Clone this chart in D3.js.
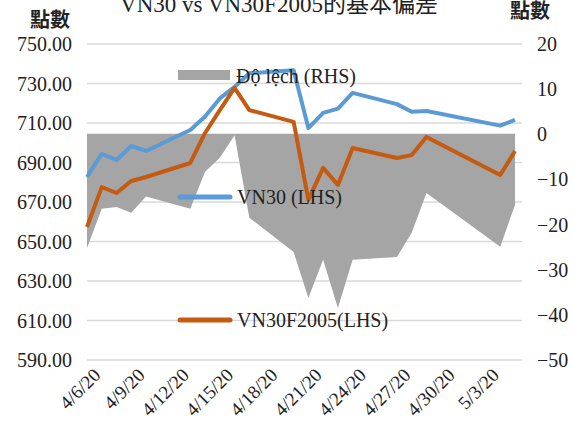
<!DOCTYPE html>
<html>
<head>
<meta charset="utf-8">
<script src="https://cdn.jsdelivr.net/npm/d3@7"></script>
<style>
  body { margin: 0; background: #fff; }
  svg text { font-family: "Liberation Serif", "Noto Sans CJK TC", serif; fill: #222; }
  .axis .domain { display: none; }
  .axis line { stroke: none; }
  .grid line { stroke: #d9d9d9; stroke-width: 1.5; }
  .grid .domain { display: none; }
</style>
</head>
<body>
<div id="chart"></div>
<script>
// trading days
const dates = ["2020-04-06","2020-04-07","2020-04-08","2020-04-09","2020-04-10",
  "2020-04-13","2020-04-14","2020-04-15","2020-04-16","2020-04-17",
  "2020-04-20","2020-04-21","2020-04-22","2020-04-23","2020-04-24",
  "2020-04-27","2020-04-28","2020-04-29","2020-05-04","2020-05-05"];
const vn30 = [682.4, 694.1, 691.0, 698.1, 695.6, 706.2, 713.0, 722.2, 728.0, 734.9,
  736.5, 707.2, 714.9, 717.0, 725.0, 719.3, 715.4, 715.8, 708.4, 711.3];
const vn30f = [657.1, 677.3, 674.3, 680.4, 682.4, 689.5, 704.7, 716.3, 727.5, 716.3,
  710.3, 670.8, 687.0, 678.4, 697.1, 692.0, 693.5, 702.7, 683.4, 695.6];
const basis = [-25.3, -16.6, -16.2, -17.5, -13.9, -16.6, -8.4, -5.3, -0.3, -18.6,
  -26.2, -36.4, -27.9, -38.6, -27.9, -27.3, -21.9, -13.1, -25.0, -15.7];
const xTicks = ["2020-04-06","2020-04-09","2020-04-12","2020-04-15","2020-04-18",
  "2020-04-21","2020-04-24","2020-04-27","2020-04-30","2020-05-03"];
const leftTicks = [590, 610, 630, 650, 670, 690, 710, 730, 750];
const rightTicks = [-50, -40, -30, -20, -10, 0, 10, 20];
const title = "VN30 vs VN30F2005的基本偏差";
const legendNames = ["Độ lệch (RHS)", "VN30 (LHS)", "VN30F2005(LHS)"];

const width = 573, height = 426;
const parse = d3.utcParse("%Y-%m-%d");
const data = dates.map((d, i) => ({date: parse(d), a: vn30[i], b: vn30f[i], c: basis[i]}));

const svg = d3.select("#chart").append("svg")
  .attr("width", width).attr("height", height);

const x = d3.scaleUtc().domain([parse("2020-04-06"), parse("2020-05-05")]).range([87, 515]);
const gridRight = 522;
const yL = d3.scaleLinear().domain([590, 750]).range([359.5, 43.5]);
const yR = d3.scaleLinear().domain([-50, 20]).range([359.5, 43.5]);

// gridlines
svg.append("g").attr("class", "grid")
  .attr("transform", `translate(${gridRight},0)`)
  .call(d3.axisLeft(yL).tickValues(leftTicks).tickSize(gridRight - 87).tickFormat(""));

// basis area
const area = d3.area()
  .x(d => x(d.date))
  .y0(yR(0))
  .y1(d => yR(d.c));
svg.append("path").datum(data)
  .attr("d", area)
  .attr("fill", "#a5a5a5");

// lines
const lineA = d3.line().x(d => x(d.date)).y(d => yL(d.a));
const lineB = d3.line().x(d => x(d.date)).y(d => yL(d.b));
svg.append("path").datum(data).attr("d", lineA)
  .attr("fill", "none").attr("stroke", "#5b9bd5").attr("stroke-width", 4)
  .attr("stroke-linejoin", "round");
svg.append("path").datum(data).attr("d", lineB)
  .attr("fill", "none").attr("stroke", "#c55a11").attr("stroke-width", 4)
  .attr("stroke-linejoin", "round");

// axes
const fmtDate = d3.utcFormat("%-m/%-d/%y");
const axL = svg.append("g").attr("class", "axis")
  .attr("transform", "translate(76,0)")
  .call(d3.axisLeft(yL).tickValues(leftTicks).tickFormat(d3.format(".2f")).tickSize(0).tickPadding(4));
axL.selectAll("text").style("font-size", "20px").attr("dy", "0.35em");

const axR = svg.append("g").attr("class", "axis")
  .attr("transform", "translate(533,0)")
  .call(d3.axisRight(yR).tickValues(rightTicks).tickSize(0).tickPadding(4));
axR.selectAll("text").style("font-size", "20px").attr("dy", "0.35em");

const axX = svg.append("g").attr("class", "axis")
  .attr("transform", "translate(0,366)")
  .call(d3.axisBottom(x).tickValues(xTicks.map(parse)).tickFormat(fmtDate).tickSize(0));
axX.selectAll("text")
  .style("font-size", "19px")
  .attr("text-anchor", "end")
  .attr("dy", "0.6em")
  .attr("transform", "translate(4,0) rotate(-45)");

// axis titles
svg.append("text").attr("x", 30).attr("y", 27)
  .style("font-size", "20px").style("font-weight", "bold").text("點數");
svg.append("text").attr("x", 510).attr("y", 18)
  .style("font-size", "20px").style("font-weight", "bold").text("點數");

// chart title (top is clipped in the original too)
svg.append("text").attr("x", 279).attr("y", 12)
  .attr("text-anchor", "middle").style("font-size", "23px").text(title);

// legend
const lg = svg.append("g");
lg.append("rect").attr("x", 178).attr("y", 70).attr("width", 52).attr("height", 10).attr("fill", "#a5a5a5");
lg.append("text").attr("x", 236).attr("y", 83).style("font-size", "20px").text(legendNames[0]);
lg.append("line").attr("x1", 180).attr("x2", 230).attr("y1", 197).attr("y2", 197)
  .attr("stroke", "#5b9bd5").attr("stroke-width", 5).attr("stroke-linecap", "round");
lg.append("text").attr("x", 237).attr("y", 204).style("font-size", "20px").text(legendNames[1]);
lg.append("line").attr("x1", 180).attr("x2", 230).attr("y1", 320).attr("y2", 320)
  .attr("stroke", "#c55a11").attr("stroke-width", 5).attr("stroke-linecap", "round");
lg.append("text").attr("x", 237).attr("y", 327).style("font-size", "20px").text(legendNames[2]);
</script>
</body>
</html>
